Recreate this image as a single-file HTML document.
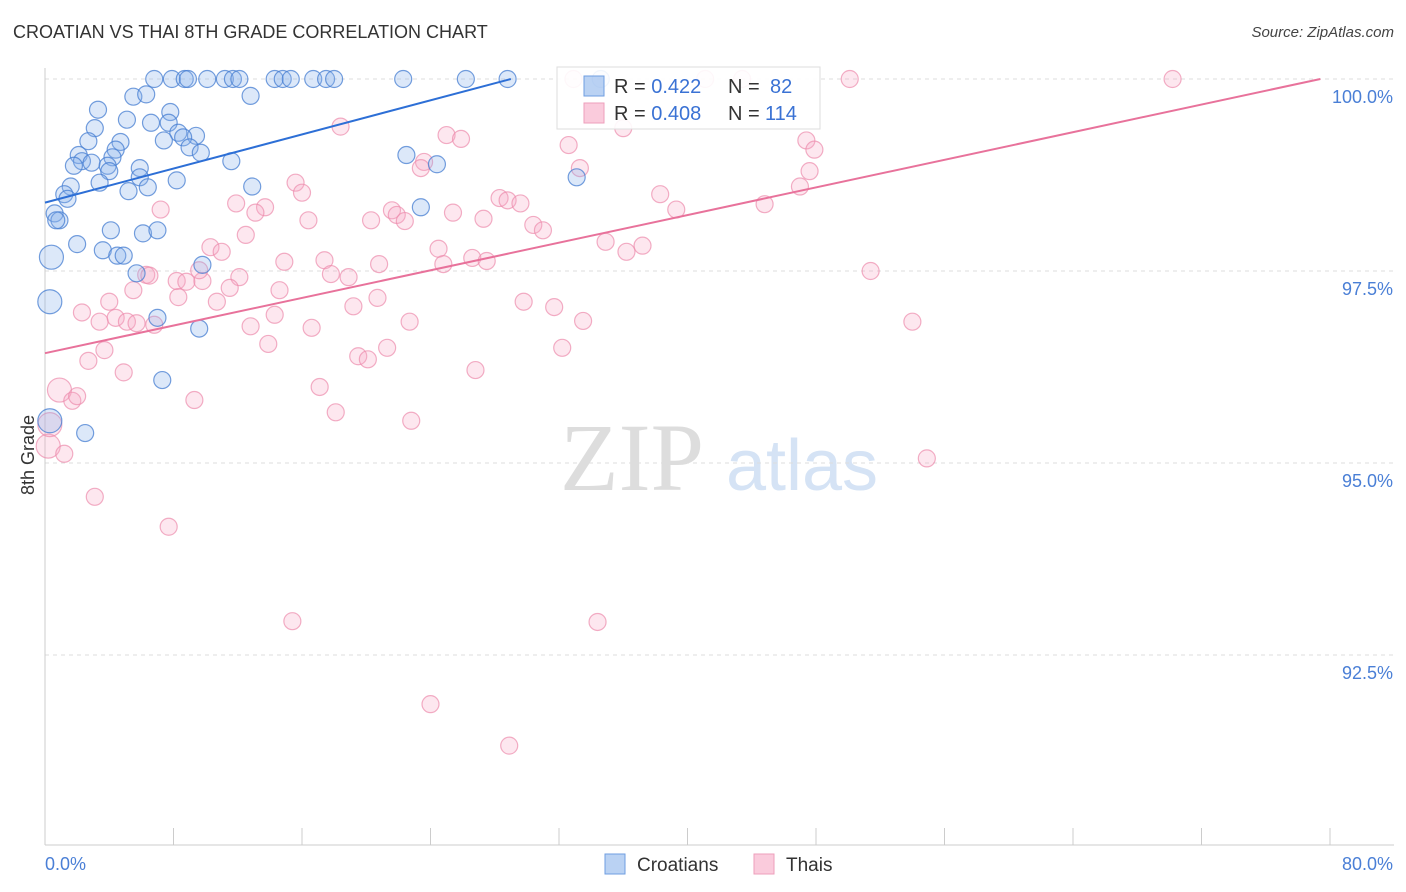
<!DOCTYPE html>
<html><head><meta charset="utf-8"><style>
body{margin:0;background:#fff;font-family:"Liberation Sans",sans-serif;}
#wrap{position:relative;width:1406px;height:892px;overflow:hidden;}
.t{position:absolute;white-space:nowrap;}
</style></head><body>
<div id="wrap">
<div class="t" style="left:13px;top:22px;font-size:18px;color:#333;">CROATIAN VS THAI 8TH GRADE CORRELATION CHART</div>
<div class="t" style="right:12px;top:24px;font-size:15px;color:#444;font-style:italic;">Source: ZipAtlas.com</div>
<svg id="svg" width="1406" height="892" style="position:absolute;left:0;top:0"></svg>
</div>
<script>
const xTickValues=[0,8,16,24,32,40,48,56,64,72,80];
const yTickValues=[100,97.5,95,92.5];
const yTickLabels=["100.0%","97.5%","95.0%","92.5%"];
const croX=[6.8,7.9,8.7,8.9,10.1,11.2,11.7,12.1,14.3,14.8,15.3,16.7,17.5,18.0,22.3,26.2,28.8,34.6,5.5,6.3,12.8,3.3,7.8,5.1,6.6,7.7,3.1,8.3,9.4,2.7,4.7,7.4,8.6,4.4,9.0,9.7,2.1,4.2,2.3,2.9,1.8,3.9,5.9,11.6,22.5,24.4,4.0,5.9,3.4,1.6,6.4,8.2,5.2,12.9,33.1,1.2,1.4,0.6,0.9,0.7,23.4,4.1,6.1,7.0,2.0,3.6,4.5,4.9,0.4,9.8,5.7,0.3,7.0,9.6,7.3,2.5,0.3];
const croY=[100,100,100,100,100,100,100,100,100,100,100,100,100,100,100,100,100,100,99.77,99.8,99.78,99.6,99.57,99.47,99.43,99.43,99.36,99.3,99.26,99.19,99.18,99.2,99.24,99.08,99.11,99.04,99.01,98.98,98.93,98.91,98.87,98.87,98.84,98.93,99.01,98.89,98.8,98.72,98.65,98.6,98.59,98.68,98.54,98.6,98.72,98.5,98.44,98.25,98.16,98.16,98.33,98.03,97.99,98.03,97.85,97.77,97.7,97.7,97.68,97.58,97.47,97.1,96.89,96.75,96.08,95.39,95.55];
const croBig=[68,71,76];
const thaiX=[32.9,41.1,43.4,50.1,70.2,18.4,36.0,25.0,25.9,32.6,47.4,47.9,23.6,23.4,33.3,47.6,15.6,16.0,47.0,38.3,28.3,28.8,29.6,11.9,13.7,44.8,7.2,13.1,21.6,21.9,22.4,25.4,27.3,16.4,20.3,39.3,30.4,31.0,12.5,10.3,11.0,24.5,34.9,37.2,36.2,14.9,17.4,20.8,24.8,26.6,27.5,51.4,6.3,12.1,6.5,8.2,8.8,9.8,17.8,18.9,9.6,11.5,5.5,14.6,8.3,10.7,4.0,20.7,19.2,29.8,31.7,2.3,14.3,4.4,3.4,5.1,5.7,6.8,12.8,16.6,22.7,33.5,54.0,13.9,3.7,21.3,32.2,2.7,19.5,20.1,4.9,26.8,17.1,0.9,1.7,2.0,9.3,18.1,22.8,0.2,1.2,54.9,3.1,7.7,15.4,34.4,24.0,28.9,0.3];
const thaiY=[100,100,100,100,100,99.38,99.36,99.27,99.22,99.14,99.2,99.08,98.92,98.84,98.84,98.8,98.65,98.52,98.6,98.5,98.45,98.42,98.38,98.38,98.33,98.37,98.3,98.26,98.29,98.23,98.15,98.26,98.18,98.16,98.16,98.3,98.1,98.03,97.97,97.81,97.75,97.79,97.88,97.83,97.75,97.62,97.64,97.59,97.59,97.67,97.63,97.5,97.45,97.42,97.44,97.37,97.36,97.37,97.46,97.42,97.51,97.28,97.25,97.25,97.16,97.1,97.1,97.15,97.04,97.1,97.03,96.96,96.93,96.89,96.84,96.84,96.82,96.8,96.78,96.76,96.84,96.85,96.84,96.55,96.47,96.5,96.5,96.33,96.39,96.35,96.18,96.21,95.99,95.95,95.81,95.87,95.82,95.66,95.55,95.22,95.12,95.06,94.56,94.17,92.94,92.93,91.86,91.32,95.5];
const thaiBig=[93,99,108];
const croLine=[[0,98.39],[29,100]];
const thaiLine=[[0,96.43],[79.4,100]];
const X0=45,X1=1330,Y100=79,PXPER=76.8;
const sx=v=>X0+v*(X1-X0)/80;
const sy=v=>Y100+(100-v)*PXPER;
const svg=document.getElementById('svg');
const NS='http://www.w3.org/2000/svg';
function mk(tag,attrs,parent){const e=document.createElementNS(NS,tag);for(const k in attrs)e.setAttribute(k,attrs[k]);(parent||svg).appendChild(e);return e;}
// watermark
let wm=mk('text',{x:632,y:490,'font-size':96,'font-family':'Liberation Serif,serif',fill:'#ddd','text-anchor':'middle'});


wm.textContent='ZIP';
let wm2=mk('text',{x:802,y:490,'font-size':72,'font-family':'Liberation Sans,sans-serif',fill:'#d5e3f5','text-anchor':'middle'});


wm2.textContent='atlas';
// gridlines
yTickValues.forEach((v,i)=>{
 const g=mk('line',{x1:45,x2:1394,y1:sy(v),y2:sy(v),stroke:'#ddd','stroke-dasharray':'4,4'});
 
 
 const t=mk('text',{x:1393,y:sy(v)+24,'font-size':18,fill:'#4a7fd6','text-anchor':'end'});
 
 
 t.textContent=yTickLabels[i];
});
// axes
let ax=mk('line',{x1:45,x2:1394,y1:845,y2:845,stroke:'#ccc'});


let ay=mk('line',{x1:45,x2:45,y1:68,y2:845,stroke:'#ccc'});


xTickValues.forEach(v=>{
 const l=mk('line',{x1:sx(v),x2:sx(v),y1:828,y2:845,stroke:'#ccc'});
 
 
});
let xl0=mk('text',{x:45,y:870,'font-size':18,fill:'#4a7fd6'});


xl0.textContent='0.0%';
let xl1=mk('text',{x:1393,y:870,'font-size':18,fill:'#4a7fd6','text-anchor':'end'});


xl1.textContent='80.0%';
let yt=mk('text',{x:34,y:455,'font-size':18,fill:'#333','text-anchor':'middle',transform:'rotate(-90 34 455)'});


yt.textContent='8th Grade';
// points
function pts(xs,ys,big,fill,stroke,name){
 xs.forEach((x,i)=>{
  const r=big.includes(i)?12:8.5;
  const c=mk('circle',{cx:sx(x),cy:sy(ys[i]),r:r,fill:fill,stroke:stroke,'stroke-width':1.2});
  
  
 });
}
pts(thaiX,thaiY,thaiBig,'rgba(247,168,196,0.28)','rgba(236,140,172,0.7)','thai-point');
pts(croX,croY,croBig,'rgba(140,180,235,0.3)','rgba(70,125,210,0.75)','croatian-point');
let cl=mk('line',{x1:sx(croLine[0][0]),y1:sy(croLine[0][1]),x2:sx(croLine[1][0]),y2:sy(croLine[1][1]),stroke:'#2d6fd6','stroke-width':2});


let tl=mk('line',{x1:sx(thaiLine[0][0]),y1:sy(thaiLine[0][1]),x2:sx(thaiLine[1][0]),y2:sy(thaiLine[1][1]),stroke:'#e8729b','stroke-width':2});


// legend box
let lg=mk('g',{});


mk('rect',{x:557,y:67,width:263,height:62,fill:'rgba(255,255,255,0.9)',stroke:'#ddd'},lg);
function lrow(y,fill,stroke,r,n,name){
 const s=mk('rect',{x:584,y:y-10,width:20,height:20,fill:fill,stroke:stroke},lg);
 
 
 const t=mk('text',{x:614,y:y+7,'font-size':20,fill:'#333'},lg);
 
 
 t.innerHTML='R = <tspan fill="#3a72d4">'+r+'</tspan><tspan x="728">N = </tspan><tspan fill="#3a72d4" x="'+(n.length==2?770:765)+'">'+n+'</tspan>';
}
lrow(86,'rgba(140,180,235,0.6)','#6f9ee0','0.422','82','legend-croatians');
lrow(113,'rgba(247,168,196,0.6)','#ee9fbb','0.408','114','legend-thais');
// bottom legend
function bl(x,fill,stroke,label,name){
 const s=mk('rect',{x:x,y:854,width:20,height:20,fill:fill,stroke:stroke});
 
 
 const t=mk('text',{x:x+32,y:871,'font-size':19,fill:'#333'});
 
 
 t.textContent=label;
}
bl(605,'rgba(140,180,235,0.6)','#6f9ee0','Croatians','bottom-legend-croatians');
bl(754,'rgba(247,168,196,0.6)','#ee9fbb','Thais','bottom-legend-thais');
</script>
</body></html>
